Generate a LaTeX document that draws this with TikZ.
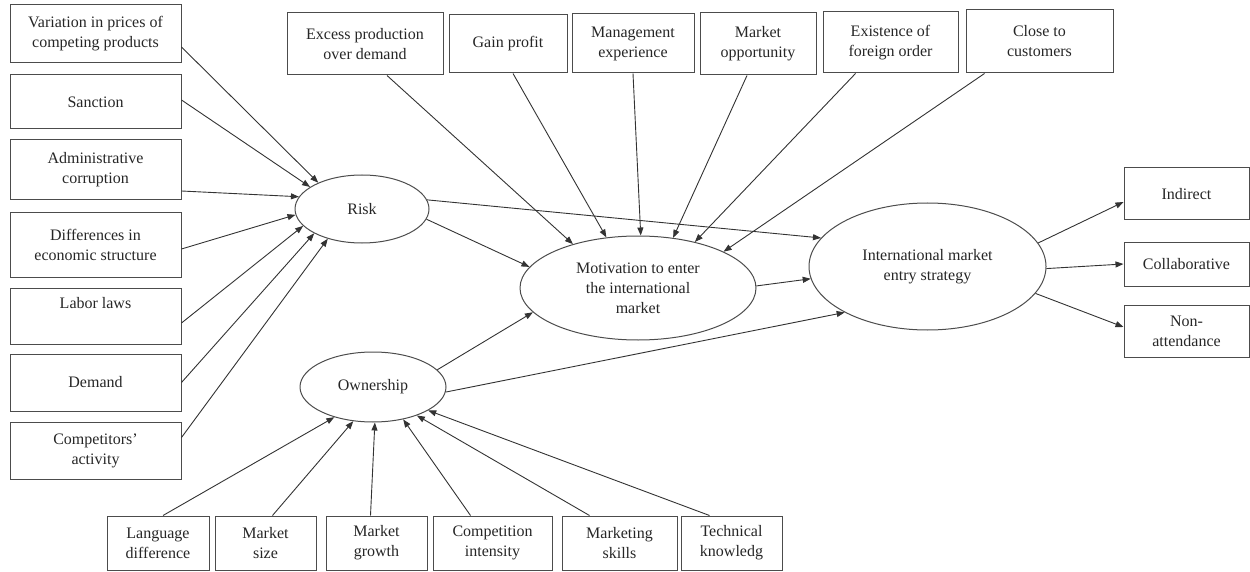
\documentclass[tikz,border=0pt]{standalone}
\usepackage{fontspec}
\setmainfont{Liberation Serif}
\usetikzlibrary{shapes.geometric,arrows.meta}
\begin{document}
\begin{tikzpicture}[x=1pt,y=-1pt,
  every node/.style={font=\fontsize{16}{20}\selectfont, text=black!85},
  box/.style={draw=black!70, line width=1pt, rectangle, inner sep=0pt, align=center},
  oval/.style={draw=black!70, line width=1pt, ellipse, inner sep=0pt, align=center},
  arr/.style={draw=black!80, line width=0.9pt, -{Triangle[length=8pt,width=6pt]}}]
\useasboundingbox (0,0) rectangle (1250,572);
% left boxes
\node[box, minimum width=171pt, minimum height=58pt] (b1) at (95.5,34) {Variation in prices of\\competing products};
\node[box, minimum width=171pt, minimum height=54pt] (b2) at (95.5,102) {Sanction};
\node[box, minimum width=171pt, minimum height=60pt] (b3) at (95.5,170) {Administrative\\corruption};
\node[box, minimum width=171pt, minimum height=64pt] (b4) at (95.5,245) {Differences in\\economic structure};
\node[box, minimum width=171pt, minimum height=56pt] (b5) at (95.5,316) {Labor laws\\ \strut};
\node[box, minimum width=171pt, minimum height=57pt] (b6) at (95.5,382.5) {Demand};
\node[box, minimum width=171pt, minimum height=57pt] (b7) at (95.5,450.5) {Competitors'\\activity};
% top boxes
\node[box, minimum width=156pt, minimum height=62pt] (t1) at (365,44) {Excess production\\over demand};
\node[box, minimum width=118pt, minimum height=58pt] (t2) at (508,44) {Gain profit};
\node[box, minimum width=122pt, minimum height=59pt] (t3) at (633,43.5) {Management\\experience};
\node[box, minimum width=116pt, minimum height=62pt] (t4) at (758,44) {Market\\opportunity};
\node[box, minimum width=135pt, minimum height=61pt] (t5) at (890.5,42.5) {Existence of\\foreign order};
\node[box, minimum width=147pt, minimum height=63pt] (t6) at (1039.5,41.5) {Close to\\customers};
% bottom boxes
\node[box, minimum width=102pt, minimum height=54pt] (m1) at (158,543) {Language\\difference};
\node[box, minimum width=101pt, minimum height=54pt] (m2) at (265.5,543) {Market\\size};
\node[box, minimum width=101pt, minimum height=54pt] (m3) at (376.5,543) {Market\\growth};
\node[box, minimum width=119pt, minimum height=54pt] (m4) at (492.5,543) {Competition\\intensity};
\node[box, minimum width=115pt, minimum height=54pt] (m5) at (619.5,543) {Marketing\\skills};
\node[box, minimum width=101pt, minimum height=54pt] (m6) at (731.5,543) {Technical\\knowledg};
% right boxes
\node[box, minimum width=125pt, minimum height=52pt] (r1) at (1186.5,194) {Indirect};
\node[box, minimum width=125pt, minimum height=44pt] (r2) at (1186.5,264) {Collaborative};
\node[box, minimum width=125pt, minimum height=52pt] (r3) at (1186.5,331) {Non-\\attendance};
% ellipses
\node[oval, minimum width=134pt, minimum height=68pt] (risk) at (362,209) {Risk};
\node[oval, minimum width=146pt, minimum height=70pt] (own) at (373,387) {Ownership};
\node[oval, minimum width=236pt, minimum height=104pt] (mot) at (638,288) {Motivation to enter\\the international\\market};
\node[oval, minimum width=237pt, minimum height=127pt] (ims) at (927.5,266.5) {International market\\entry strategy};
% left -> risk
\draw[arr] ([yshift=-13pt]b1.east) -- (risk.149);
\draw[arr] ([yshift=2pt]b2.east) -- (risk.157);
\draw[arr] ([yshift=-21pt]b3.east) -- (risk.169);
\draw[arr] ([yshift=-4pt]b4.east) -- (risk.185);
\draw[arr] ([yshift=-7pt]b5.east) -- (risk.196);
\draw[arr] (b6.east) -- (risk.207);
\draw[arr] ([yshift=13pt]b7.east) -- (risk.221);
% top -> motivation
\draw[arr] ([xshift=22pt]t1.south) -- (mot.146);
\draw[arr] ([xshift=5pt]t2.south) -- (mot.122);
\draw[arr] (t3.south) -- (mot.87);
\draw[arr] ([xshift=-11pt]t4.south) -- (mot.55);
\draw[arr] ([xshift=-35pt]t5.south) -- (mot.39);
\draw[arr] ([xshift=-55pt]t6.south) -- (mot.23);
% bottom -> ownership
\draw[arr] ([xshift=5pt]m1.north) -- (own.218);
\draw[arr] ([xshift=7pt]m2.north) -- (own.240);
\draw[arr] ([xshift=-6pt]m3.north) -- (own.273);
\draw[arr] ([xshift=-22pt]m4.north) -- (own.313);
\draw[arr] ([xshift=-30pt]m5.north) -- (own.327);
\draw[arr] ([xshift=-22pt]m6.north) -- (own.337);
% latent paths
\draw[arr] (risk.-9) -- (mot.169);
\draw[arr] (risk.8) -- (ims.165);
\draw[arr] (mot.1) -- (ims.186);
\draw[arr] (own.15) -- (mot.193);
\draw[arr] (own.-4) -- (ims.209);
% ims -> right
\draw[arr] (ims.12.5) -- ([yshift=-8pt]r1.west);
\draw[arr] (ims.-1.5) -- (r2.west);
\draw[arr] (ims.-14.5) -- ([yshift=4pt]r3.west);
\end{tikzpicture}
\end{document}
